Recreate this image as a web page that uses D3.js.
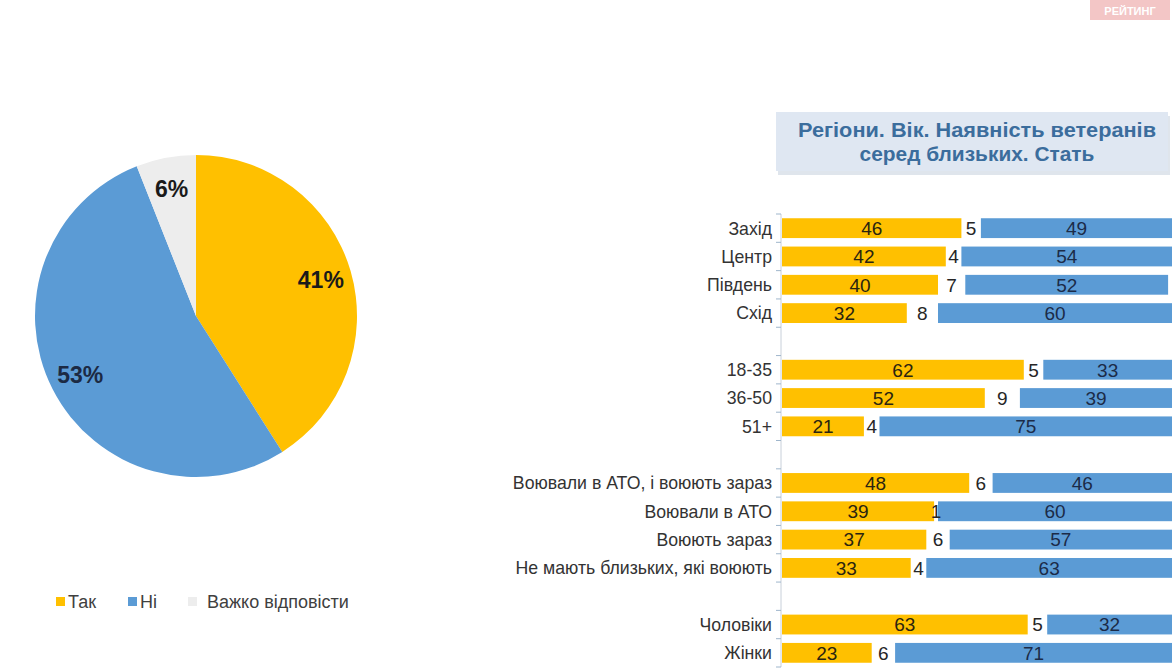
<!DOCTYPE html>
<html>
<head>
  <meta charset="UTF-8">
  <style>
    body { margin: 0; background: #fff; }
    svg { display: block; }
    .lab { font-family: "Liberation Sans", Arial, sans-serif; }
  </style>
</head>
<body>
<svg></svg>
<script src="https://d3js.org/d3.v7.min.js"></script>
<script>

let width = 1176, height = 671;

// pie data
const pieNames = ["Так", "Ні", "Важко відповісти"];
const pieValues = [41, 53, 6];
const colors = ["#FFC000", "#5B9BD5", "#EDEDED"];

// bar data (blank names = gaps between groups)
const rows = ["Захід", "Центр", "Південь", "Схід", "",
  "18-35", "36-50", "51+", " ",
  "Воювали в АТО, і воюють зараз", "Воювали в АТО", "Воюють зараз", "Не мають близьких, які воюють", "  ",
  "Чоловіки", "Жінки"];
const yesVals  = [46, 42, 40, 32, null, 62, 52, 21, null, 48, 39, 37, 33, null, 63, 23];
const hardVals = [5, 4, 7, 8, null, 5, 9, 4, null, 6, 1, 6, 4, null, 5, 6];
const noVals   = [49, 54, 52, 60, null, 33, 39, 75, null, 46, 60, 57, 63, null, 32, 71];

const titleLines = ["Регіони. Вік. Наявність ветеранів", "серед близьких. Стать"];
const titleWidths = [358, 235];

let svg = d3.select("svg")
    .attr("width", width)
    .attr("height", height);

// logo top right
svg.append("rect").attr("x", 1090).attr("y", 0).attr("width", 80).attr("height", 20)
    .attr("fill", "#f3c6c6");
svg.append("text").attr("x", 1130).attr("y", 15).attr("text-anchor", "middle")
    .attr("fill", "#fff").attr("font-family", "Liberation Sans, sans-serif")
    .attr("font-weight", "bold").attr("font-size", 11).text("РЕЙТИНГ");

// ---- pie ----
let cx = 196, cy = 316, r = 161;
let pie = d3.pie().sort(null).value(d => d)(pieValues);
let arc = d3.arc().innerRadius(0).outerRadius(r);
let labelArc = d3.arc().innerRadius(130).outerRadius(130);

let pg = svg.append("g").attr("transform", `translate(${cx},${cy})`);
pg.selectAll("path").data(pie).enter().append("path")
    .attr("d", arc)
    .attr("fill", (d, i) => colors[i]);
pg.selectAll("text").data(pie).enter().append("text")
    .attr("transform", d => `translate(${labelArc.centroid(d)})`)
    .attr("text-anchor", "middle")
    .attr("dy", "0.36em")
    .attr("font-family", "Liberation Sans, Arial, sans-serif")
    .attr("font-weight", "bold")
    .attr("font-size", 23)
    .attr("fill", (d, i) => i == 1 ? "#1c2a44" : "#1a1a1a")
    .text(d => d.data + "%");

// legend
let legX = [56, 128, 188];
let lg = svg.append("g");
pieNames.forEach((n, i) => {
    lg.append("rect").attr("x", legX[i]).attr("y", 597).attr("width", 9).attr("height", 9)
      .attr("fill", colors[i]);
    lg.append("text").attr("x", legX[i] + 12 + (i == 2 ? 7 : 0)).attr("y", 608)
      .attr("font-family", "Liberation Sans, Arial, sans-serif")
      .attr("font-size", 18).attr("fill", "#404040").text(n);
});

// ---- title box ----
svg.append("rect").attr("x", 778).attr("y", 116).attr("width", 392).attr("height", 59)
    .attr("fill", "#c9d3e0").attr("opacity", 0.6);
svg.append("rect").attr("x", 776).attr("y", 112).attr("width", 392).attr("height", 59)
    .attr("fill", "#dfe7f2");
svg.append("g").selectAll("text").data(titleLines).enter().append("text")
    .attr("x", 0)
    .attr("y", 0)
    .attr("text-anchor", "middle")
    .attr("font-family", "Liberation Sans, Arial, sans-serif")
    .attr("font-weight", "bold").attr("font-size", 21).attr("fill", "#3b6d9d")
    .text(d => d)
    .attr("transform", function(d, i) {
        // stretch each line to the width it has in the picture
        let k = titleWidths[i] / this.getComputedTextLength();
        return `translate(977,${137 + i * 24}) scale(${k},1)`;
    });

// ---- stacked bars ----
let x = d3.scaleLinear().domain([0, 100]).range([782, 1172]);
let y = d3.scaleBand().domain(rows).range([214, 667]).paddingInner(0.3).paddingOuter(0.15);

// axis line + ticks at row boundaries
let ax = svg.append("g");
ax.append("line").attr("x1", 781).attr("x2", 781).attr("y1", 214).attr("y2", 667)
    .attr("stroke", "#c8d0da").attr("stroke-width", 1);
let bounds = rows.map((d, i) => 214 + i * y.step()).concat([667]);
ax.selectAll(".tk").data(bounds).enter().append("line")
    .attr("x1", 776).attr("x2", 781)
    .attr("y1", d => d).attr("y2", d => d)
    .attr("stroke", "#9fb6cc");

let data = rows.map((c, i) => ({ cat: c, yes: yesVals[i], hard: hardVals[i], no: noVals[i] }))
    .filter(d => d.yes != null);

let bars = svg.append("g").selectAll("g").data(data).enter().append("g");

bars.append("rect")
    .attr("x", x(0))
    .attr("y", d => y(d.cat))
    .attr("width", d => x(d.yes) - x(0))
    .attr("height", y.bandwidth())
    .attr("fill", colors[0]);
bars.append("rect")
    .attr("x", d => x(d.yes + d.hard))
    .attr("y", d => y(d.cat))
    .attr("width", d => x(d.yes + d.hard + d.no) - x(d.yes + d.hard))
    .attr("height", y.bandwidth())
    .attr("fill", colors[1]);

function valText(sel, fx, fv, col) {
    sel.append("text").attr("class", "lab")
      .attr("x", fx)
      .attr("y", d => y(d.cat) + y.bandwidth() / 2)
      .attr("dy", "0.36em")
      .attr("text-anchor", "middle")
      .attr("font-size", 19)
      .attr("fill", col)
      .text(fv);
}
valText(bars, d => (x(0) + x(d.yes)) / 2, d => d.yes, "#2a2410");
valText(bars, d => (x(d.yes) + x(d.yes + d.hard)) / 2, d => d.hard, "#262626");
valText(bars, d => (x(d.yes + d.hard) + x(d.yes + d.hard + d.no)) / 2, d => d.no, "#1b2b48");

// category labels
bars.append("text").attr("class", "lab")
    .attr("x", 772)
    .attr("y", d => y(d.cat) + y.bandwidth() / 2)
    .attr("dy", "0.36em")
    .attr("text-anchor", "end")
    .attr("font-size", 17.7)
    .attr("fill", "#333")
    .text(d => d.cat);

</script>
</body>
</html>
